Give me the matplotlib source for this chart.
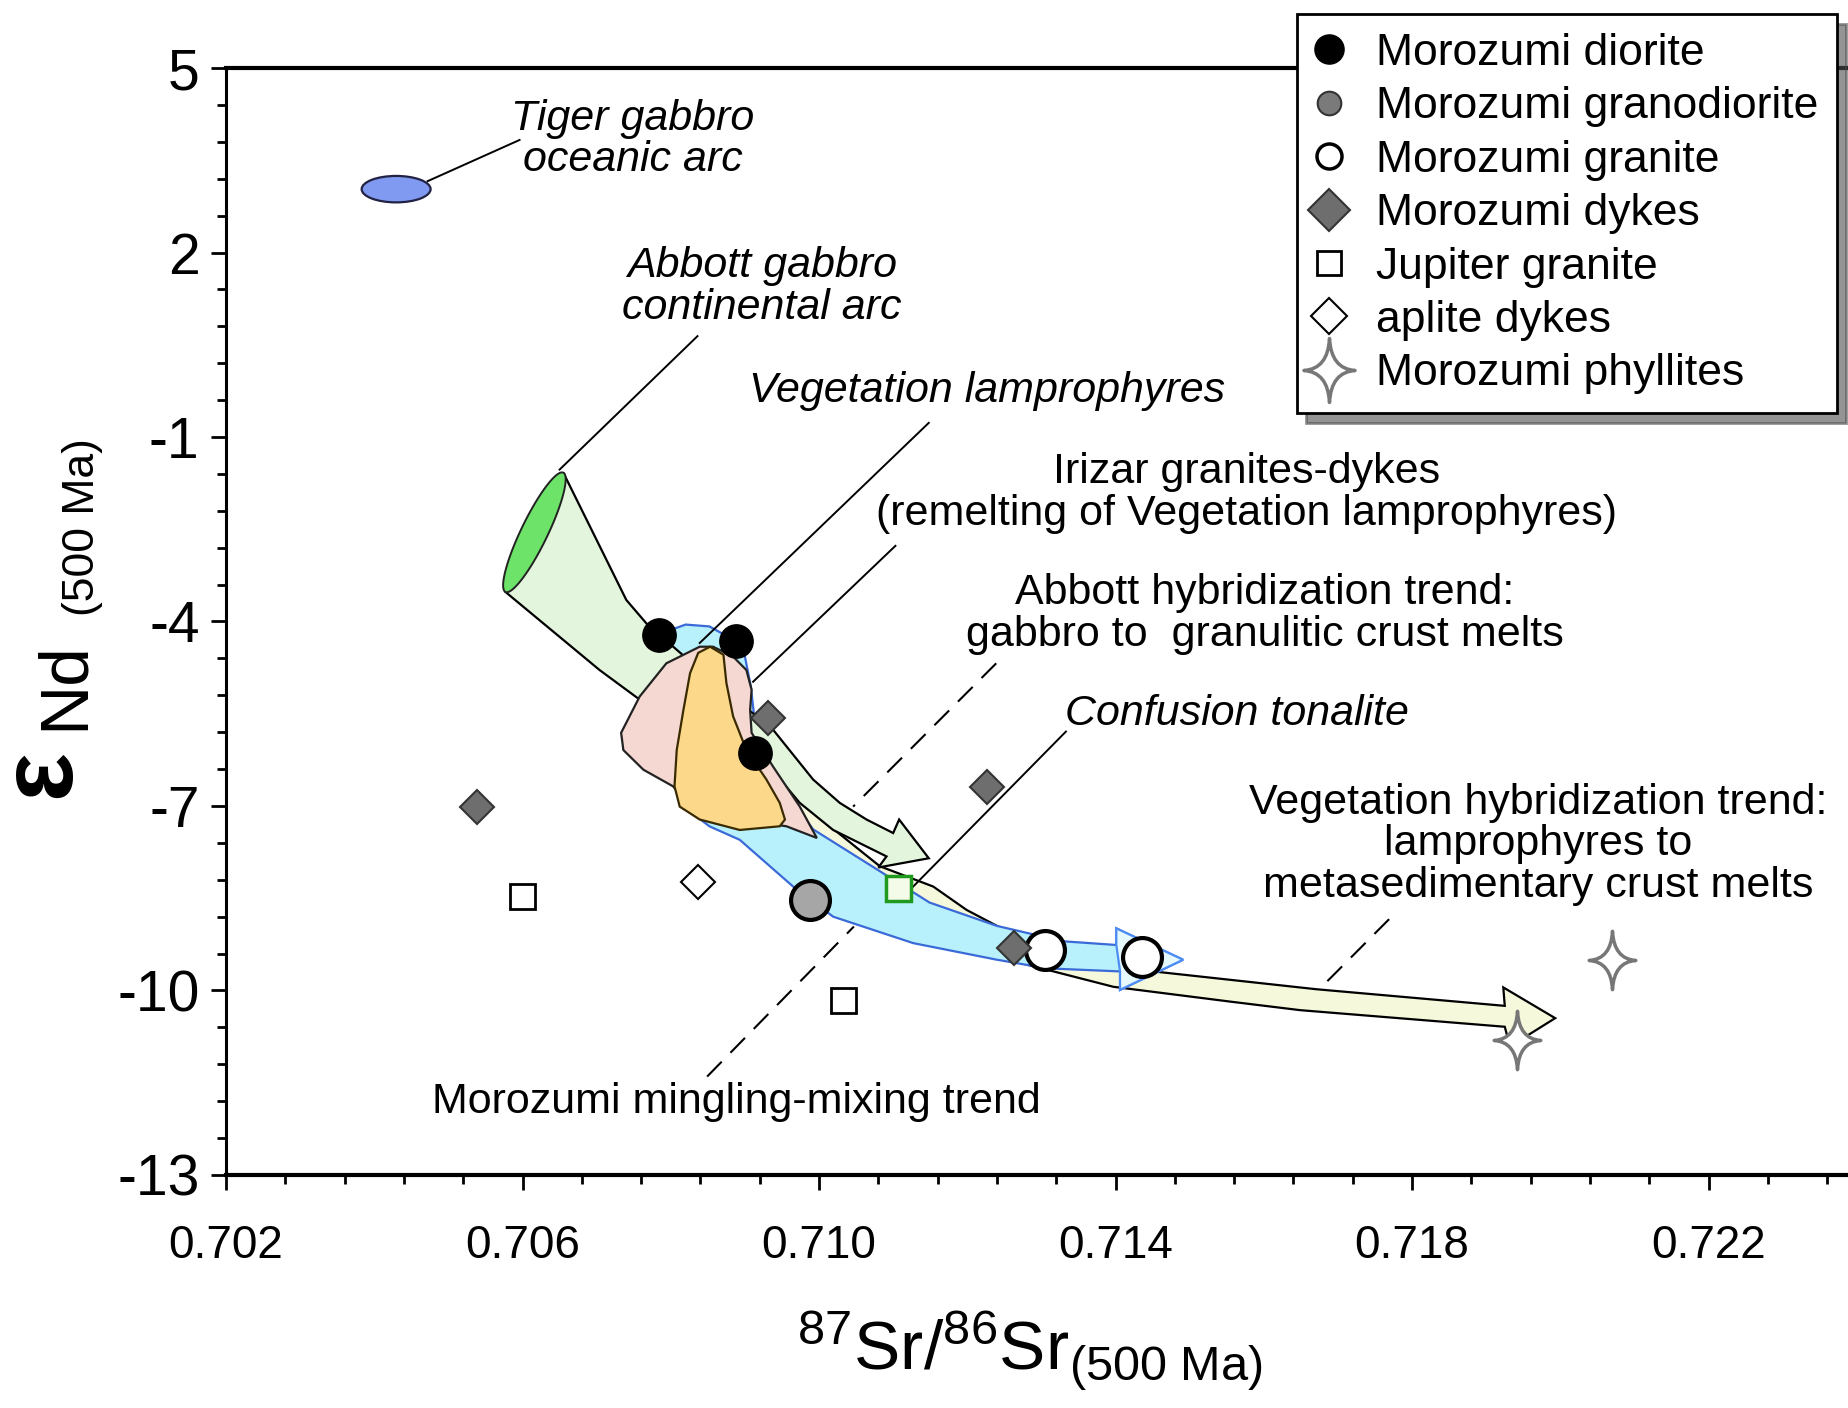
import numpy as np
import matplotlib
matplotlib.use('Agg')
import matplotlib.pyplot as plt
from matplotlib.patches import Polygon, Ellipse
from matplotlib.path import Path
from matplotlib.lines import Line2D
from matplotlib.ticker import FixedLocator

plt.rcParams['font.family'] = ['Liberation Sans', 'DejaVu Sans']
plt.rcParams['mathtext.fontset'] = 'custom'
plt.rcParams['mathtext.rm'] = 'Liberation Sans'
plt.rcParams['mathtext.it'] = 'Liberation Sans:italic'
plt.rcParams['mathtext.bf'] = 'Liberation Sans:bold'
plt.rcParams['axes.unicode_minus'] = False

# samples: 87Sr/86Sr (500 Ma) vs eNd (500 Ma)
diorite_x = [0.70784, 0.70888, 0.70913]
diorite_y = [-4.22, -4.32, -6.14]
granodiorite_x = [0.70988]
granodiorite_y = [-8.53]
granite_x = [0.71305, 0.71436]
granite_y = [-9.34, -9.45]
dykes_x = [0.70539, 0.70931, 0.71227, 0.71263]
dykes_y = [-7.02, -5.57, -6.69, -9.31]
jupiter_x = [0.70599, 0.71032]
jupiter_y = [-8.46, -10.15]
aplite_x = [0.70837]
aplite_y = [-8.23]
confusion_x = [0.71107]
confusion_y = [-8.34]
phyllite_x = [0.72070, 0.71941]
phyllite_y = [-9.51, -10.80]

# fields and trends
tiger_x, tiger_y = 0.704295, 3.03
tiger_w, tiger_h = 0.00093, 0.43
abbott_tips_x = [0.70655, 0.70577]
abbott_tips_y = [-1.58, -3.52]

abbott_trend_x = [0.70655, 0.70740, 0.70767, 0.70849, 0.70938, 0.70992, 0.71028,
                  0.71064, 0.71100, 0.71108, 0.71148, 0.71080, 0.71091, 0.71019,
                  0.70974, 0.70933, 0.70849, 0.70758, 0.70704, 0.70577]
abbott_trend_y = [-1.58, -3.65, -4.03, -4.89, -5.76, -6.57, -6.95, -7.22, -7.44,
                  -7.22, -7.85, -8.00, -7.82, -7.39, -6.95, -6.36, -5.87, -5.27,
                  -4.79, -3.52]

mingling_x = [0.70787, 0.70797, 0.70820, 0.70852, 0.70885, 0.70900, 0.70908,
              0.70912, 0.70928, 0.70955, 0.70992, 0.71078, 0.71149, 0.71240,
              0.71329, 0.71401, 0.71401, 0.71491, 0.71406, 0.71406, 0.71307,
              0.71240, 0.71127, 0.71019, 0.70965, 0.70929, 0.70893, 0.70852,
              0.70825, 0.70785, 0.70772]
mingling_y = [-4.45, -4.15, -4.05, -4.08, -4.30, -4.57, -5.06, -5.49, -6.19,
              -6.79, -7.38, -8.03, -8.57, -8.95, -9.20, -9.26, -8.99, -9.50,
              -9.99, -9.69, -9.64, -9.50, -9.23, -8.80, -8.31, -7.93, -7.55,
              -7.33, -7.08, -6.16, -5.20]
mingling_head_x = [0.71401, 0.71401, 0.71491, 0.71406, 0.71406]
mingling_head_y = [-9.26, -8.99, -9.50, -9.99, -9.69]

veg_trend_x = [0.70912, 0.70992, 0.71082, 0.71154, 0.71199, 0.71262, 0.71358,
               0.71451, 0.71671, 0.71925, 0.71923, 0.71993, 0.71932, 0.71925,
               0.71649, 0.71554, 0.71397, 0.71271, 0.71167, 0.71040, 0.70960,
               0.70912]
veg_trend_y = [-5.87, -7.11, -7.98, -8.31, -8.69, -9.09, -9.45, -9.69, -9.98,
               -10.25, -9.95, -10.45, -10.91, -10.59, -10.32, -10.18, -9.94,
               -9.55, -9.22, -8.65, -7.88, -7.11]

veg_lamp_x = [0.70839, 0.70794, 0.70758, 0.70733, 0.70736, 0.70763, 0.70803,
              0.70833, 0.70956, 0.70997, 0.70974, 0.70938, 0.70909, 0.70907,
              0.70909, 0.70902, 0.70884, 0.70857]
veg_lamp_y = [-4.41, -4.68, -5.22, -5.81, -6.09, -6.41, -6.68, -7.11, -7.33,
              -7.52, -7.01, -6.36, -5.81, -5.44, -5.11, -4.79, -4.57, -4.41]

irizar_x = [0.70853, 0.70871, 0.70875, 0.70884, 0.70902, 0.70929, 0.70947,
            0.70954, 0.70947, 0.70893, 0.70839, 0.70812, 0.70805, 0.70808,
            0.70817, 0.70826, 0.70837]
irizar_y = [-4.41, -4.54, -5.00, -5.54, -6.09, -6.57, -6.95, -7.22, -7.33,
            -7.39, -7.22, -7.01, -6.68, -6.09, -5.44, -4.84, -4.51]

xticks = [0.702, 0.706, 0.710, 0.714, 0.718, 0.722]
xtick_labels = ['0.702', '0.706', '0.710', '0.714', '0.718', '0.722']
yticks = [5, 2, -1, -4, -7, -10, -13]
ytick_labels = ['5', '2', '-1', '-4', '-7', '-10', '-13']

fig = plt.figure(figsize=(18.48, 14.08), dpi=100)
ax = fig.add_axes([0.1223, 0.1655, 0.8777, 0.7862])
ax.set_xlim(0.702, 0.72388)
ax.set_ylim(-13, 5)


def ellipse_from_tips(ax, xs, ys, ratio, n=120):
    p = ax.transData.transform(np.column_stack([xs, ys]))
    c = p.mean(axis=0)
    a = (p[0] - p[1]) / 2
    b = np.array([-a[1], a[0]]) * ratio
    t = np.linspace(0, 2 * np.pi, n)
    pts = c + np.outer(np.cos(t), a) + np.outer(np.sin(t), b)
    return ax.transData.inverted().transform(pts)


ax.add_patch(Polygon(np.column_stack([veg_trend_x, veg_trend_y]), closed=True,
                     fc='#f6f8dc', ec='black', lw=1.6, zorder=2))
ax.add_patch(Polygon(np.column_stack([mingling_x, mingling_y]), closed=True,
                     fc='#b8f0fc', ec='#3a6ad8', lw=1.6, zorder=3))
ax.add_patch(Polygon(np.column_stack([mingling_head_x, mingling_head_y]), closed=True,
                     fc='#e6fafd', ec='#4d8df5', lw=1.6, zorder=3.1))
ax.add_patch(Polygon(np.column_stack([abbott_trend_x, abbott_trend_y]), closed=True,
                     fc='#e3f5dc', ec='black', lw=1.6, zorder=4))
ax.add_patch(Polygon(ellipse_from_tips(ax, abbott_tips_x, abbott_tips_y, 0.2),
                     closed=True, fc='#6ee36a', ec='#222222', lw=1.4, zorder=4.5))
ax.add_patch(Polygon(np.column_stack([veg_lamp_x, veg_lamp_y]), closed=True,
                     fc='#f6d8d2', ec='#222222', lw=1.6, zorder=5))
ax.add_patch(Polygon(np.column_stack([irizar_x, irizar_y]), closed=True,
                     fc='#fcd98a', ec='#3a2a00', lw=1.6, zorder=6))
ax.add_patch(Ellipse((tiger_x, tiger_y), tiger_w, tiger_h,
                     fc='#7f9af0', ec='#222244', lw=1.6, zorder=5))

# leader lines
solid_leaders = [
    ([0.70472, 0.70596], [3.16, 3.83]),
    ([0.70650, 0.70836], [-1.53, 0.64]),
    ([0.71148, 0.70839], [-0.77, -4.35]),
    ([0.71103, 0.70911], [-2.77, -4.98]),
    ([0.71333, 0.71127], [-5.79, -8.31]),
]
dashed_leaders = [
    ([0.71239, 0.71046], [-4.68, -7.01]),
    ([0.70849, 0.71047], [-11.40, -8.96]),
    ([0.71769, 0.71674], [-8.84, -9.99]),
]
for lx, ly in solid_leaders:
    ax.plot(lx, ly, color='black', lw=1.4, zorder=7)
for lx, ly in dashed_leaders:
    ax.plot(lx, ly, color='black', lw=1.5, ls=(0, (10, 6)), zorder=7)

star = Path([(0, 1), (0.05, 0.05), (0.8, 0), (0.05, -0.05), (0, -1),
             (-0.05, -0.05), (-0.8, 0), (-0.05, 0.05), (0, 1), (0, 1)],
            [Path.MOVETO, Path.CURVE3, Path.CURVE3, Path.CURVE3, Path.CURVE3,
             Path.CURVE3, Path.CURVE3, Path.CURVE3, Path.CURVE3, Path.CLOSEPOLY])

ax.plot(diorite_x, diorite_y, 'o', ms=24, mfc='black', mec='black', zorder=10)
ax.plot(granodiorite_x, granodiorite_y, 'o', ms=28, mfc='#a6a6a6', mec='black', mew=3, zorder=10)
ax.plot(granite_x, granite_y, 'o', ms=28, mfc='white', mec='black', mew=3, zorder=10)
ax.plot(dykes_x, dykes_y, 'D', ms=17, mfc='#6e6e6e', mec='#333333', mew=1.5, zorder=10)
ax.plot(jupiter_x, jupiter_y, 's', ms=18, mfc='white', mec='black', mew=2, zorder=10)
ax.plot(aplite_x, aplite_y, 'D', ms=17, mfc='white', mec='black', mew=1.5, zorder=10)
ax.plot(confusion_x, confusion_y, 's', ms=18, mfc='#f4fbe8', mec='#1f9a1f', mew=2.5, zorder=10)
ax.plot(phyllite_x, phyllite_y, marker=star, ls='none', ms=42, mfc='white', mec='#777777', mew=2.5, zorder=10)

tkw = dict(ha='center', va='center', fontsize=31, linespacing=1.05, zorder=12)
ax.text(0.70749, 3.84, 'Tiger gabbro\noceanic arc', style='italic', **tkw)
ax.text(0.70923, 1.44, 'Abbott gabbro\ncontinental arc', style='italic', **tkw)
ax.text(0.71227, -0.25, 'Vegetation lamprophyres', style='italic', **tkw)
ax.text(0.71577, -1.91, 'Irizar granites-dykes\n(remelting of Vegetation lamprophyres)', **tkw)
ax.text(0.71601, -3.88, 'Abbott hybridization trend:\ngabbro to  granulitic crust melts', **tkw)
ax.text(0.71564, -5.50, 'Confusion tonalite', style='italic', **tkw)
ax.text(0.71970, -7.62, 'Vegetation hybridization trend:\nlamprophyres to\nmetasedimentary crust melts', **tkw)
ax.text(0.70888, -11.81, 'Morozumi mingling-mixing trend', **tkw)

# axes styling
ax.xaxis.set_major_locator(FixedLocator(xticks))
ax.xaxis.set_minor_locator(FixedLocator(np.arange(0.702, 0.7239, 0.0008)))
ax.yaxis.set_major_locator(FixedLocator(yticks))
ax.yaxis.set_minor_locator(FixedLocator(np.arange(-13, 5.01, 0.6)))
ax.set_xticklabels(xtick_labels)
ax.set_yticklabels(ytick_labels)
ax.tick_params(axis='x', which='major', direction='out', length=11, width=2, labelsize=33, pad=24)
ax.tick_params(axis='y', which='major', direction='out', length=11, width=2, labelsize=41, pad=8)
ax.tick_params(which='minor', direction='out', length=6.5, width=2)
ax.spines['right'].set_visible(False)
ax.spines['left'].set_linewidth(2.2)
ax.spines['bottom'].set_linewidth(3)
ax.spines['top'].set_linewidth(3)

# axis labels
fig.text(0.5574, 0.027, r'$^{87}$Sr/$^{86}$Sr$_{\mathrm{(500\ Ma)}}$', ha='center', va='baseline', fontsize=50)
fig.text(0.0250, 0.4475, '$\\mathbf{\u03b5}$', rotation=90, ha='center', va='center', fontsize=74)
fig.text(0.0352, 0.5130, 'Nd', rotation=90, ha='center', va='center', fontsize=50)
fig.text(0.0449, 0.6260, '(500 Ma)', rotation=90, ha='center', va='center', fontsize=32)

handles = [
    Line2D([], [], ls='none', marker='o', ms=21, mfc='black', mec='black'),
    Line2D([], [], ls='none', marker='o', ms=17, mfc='#7a7a7a', mec='#333333', mew=1.5),
    Line2D([], [], ls='none', marker='o', ms=18, mfc='white', mec='black', mew=2.5),
    Line2D([], [], ls='none', marker='D', ms=21, mfc='#6e6e6e', mec='#333333', mew=1.5),
    Line2D([], [], ls='none', marker='s', ms=17, mfc='white', mec='black', mew=2),
    Line2D([], [], ls='none', marker='D', ms=18, mfc='white', mec='black', mew=1.5),
    Line2D([], [], ls='none', marker=star, ms=46, mfc='white', mec='#777777', mew=2.5),
]
labels = ['Morozumi diorite', 'Morozumi granodiorite', 'Morozumi granite',
          'Morozumi dykes', 'Jupiter granite', 'aplite dykes', 'Morozumi phyllites']
leg = ax.legend(handles, labels, loc='upper left', bbox_to_anchor=(0.7016, 0.990),
                bbox_transform=fig.transFigure, fontsize=32, frameon=True, fancybox=False,
                shadow={'ox': 7, 'oy': -7, 'color': '0.3', 'alpha': 0.6},
                borderpad=0.42, labelspacing=0.28, handlelength=0.64, handletextpad=0.72,
                borderaxespad=0)
leg.get_frame().set_edgecolor('black')
leg.get_frame().set_linewidth(2)
leg.get_frame().set_alpha(1)
leg.set_zorder(20)

fig.savefig('out.png', dpi=100)
